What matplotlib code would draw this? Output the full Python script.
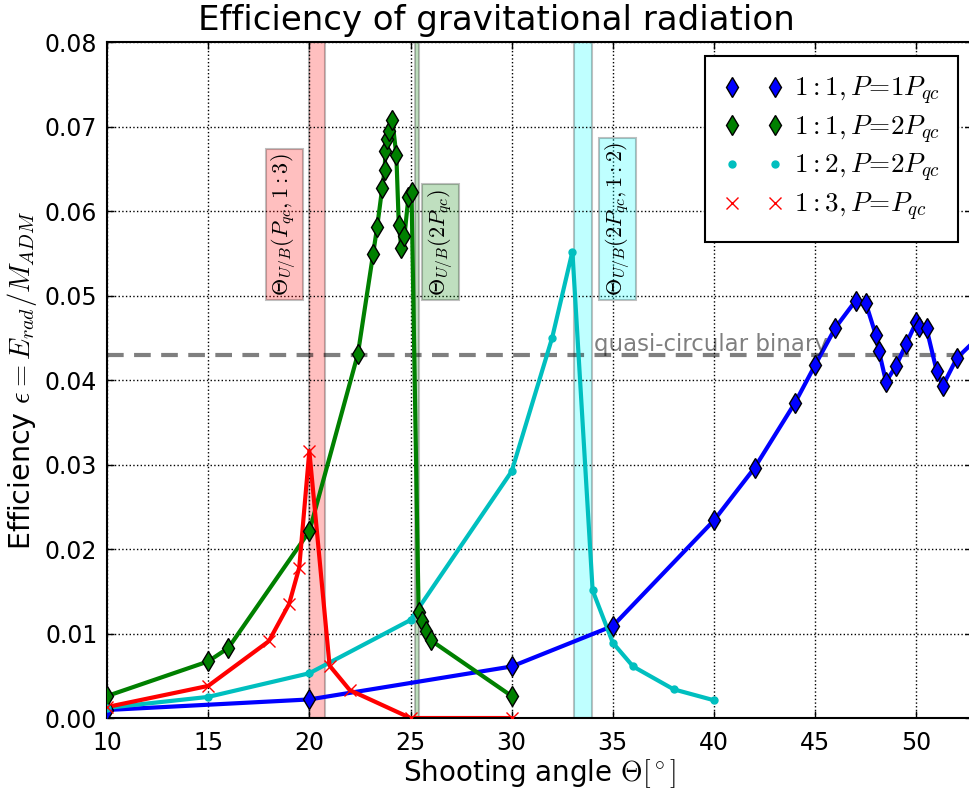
import matplotlib
matplotlib.use('Agg')
import matplotlib.pyplot as plt

plt.rcParams['mathtext.fontset'] = 'cm'
plt.rcParams['font.family'] = 'DejaVu Sans'

# 1:1, P = 1 Pqc
ang_11a = [10, 20, 30, 35, 40, 42, 44, 45, 46, 47, 47.5, 48, 48.15, 48.5, 49, 49.5,
           50, 50.15, 50.5, 51, 51.3, 52, 53]
eff_11a = [0.00095, 0.0022, 0.0061, 0.0109, 0.0234, 0.0296, 0.0373, 0.0418, 0.0462,
           0.0494, 0.0491, 0.0453, 0.0434, 0.0398, 0.0417, 0.0443, 0.0469, 0.0463,
           0.0461, 0.0411, 0.0393, 0.0426, 0.0449]

# 1:1, P = 2 Pqc
ang_11b = [10, 15, 16, 20, 22.4, 23.15, 23.35, 23.6, 23.72, 23.76, 23.85, 23.95, 24.1,
           24.3, 24.42, 24.55, 24.7, 24.9, 25.05, 25.4, 25.55, 25.75, 26.0, 30]
eff_11b = [0.0026, 0.0067, 0.0083, 0.0221, 0.0431, 0.0549, 0.0581, 0.0627, 0.0648,
           0.0671, 0.0685, 0.0695, 0.0708, 0.0666, 0.0584, 0.0556, 0.0571, 0.0617,
           0.0623, 0.0125, 0.0115, 0.0103, 0.0092, 0.0026]

# 1:2, P = 2 Pqc
ang_12 = [10, 15, 20, 25, 30, 32, 33, 34, 35, 36, 38, 40]
eff_12 = [0.0012, 0.0025, 0.0053, 0.0116, 0.0292, 0.045, 0.0552, 0.0151, 0.0089,
          0.0061, 0.0034, 0.0021]

# 1:3, P = Pqc
ang_13 = [10, 15, 18, 19, 19.5, 20, 21, 22, 25, 30]
eff_13 = [0.0013, 0.0038, 0.0091, 0.0135, 0.0178, 0.0316, 0.0062, 0.0033, 0.0, 0.0]

# threshold bands and labels
bands = [(20.0, 20.75), (25.2, 25.42), (33.1, 33.95)]
band_colors = ['red', 'green', 'cyan']
band_labels = [r'$\Theta_{U/B}(P_{qc},1:3)$', r'$\Theta_{U/B}(2P_{qc})$',
               r'$\Theta_{U/B}(2P_{qc},1:2)$']
label_x = [18.75, 26.5, 35.25]

qc_eff = 0.043

fig = plt.figure(figsize=(9.7, 7.92), dpi=100)
ax = fig.add_axes([0.1103, 0.0934, 0.8918, 0.8535])

for (x0, x1), c in zip(bands, band_colors):
    ax.axvspan(x0, x1, facecolor=c, edgecolor='k', alpha=0.25, lw=1.5, zorder=1)

ax.axhline(qc_eff, color='k', alpha=0.5, lw=3, ls='--', dashes=(4, 2.5), zorder=1.5)
ax.text(34.06, qc_eff + 0.0004, 'quasi-circular binary', color='k', alpha=0.5,
        fontsize=16.5, va='baseline', ha='left')

for lx, lab, c in zip(label_x, band_labels, band_colors):
    ax.text(lx, 0.0500, lab, rotation=90, ha='center', va='bottom', fontsize=16,
            bbox=dict(facecolor=c, edgecolor='k', alpha=0.25, lw=1.5, pad=3))

lw = 3
ax.plot(ang_11a, eff_11a, '-', color='b', lw=lw, zorder=2)
ax.plot(ang_11a, eff_11a, 'd', color='b', mec='k', ms=10, ls='none', zorder=3,
        label=r'$1:1, P\!=\!1P_{qc}$')
ax.plot(ang_11b, eff_11b, '-', color='g', lw=lw, zorder=2)
ax.plot(ang_11b, eff_11b, 'd', color='g', mec='k', ms=10, ls='none', zorder=3,
        label=r'$1:1, P\!=\!2P_{qc}$')
ax.plot(ang_12, eff_12, '-', color='c', lw=lw, zorder=2)
ax.plot(ang_12, eff_12, '.', color='c', ms=10, ls='none', zorder=3,
        label=r'$1:2, P\!=\!2P_{qc}$')
ax.plot(ang_13, eff_13, '-', color='r', lw=lw, zorder=2)
ax.plot(ang_13, eff_13, 'x', color='r', ms=9, mew=1, ls='none', zorder=3,
        label=r'$1:3, P\!=\!P_{qc}$')

ax.set_xlim(10, 52.75)
ax.set_ylim(0, 0.08)
ax.set_xticks(range(10, 51, 5))
ax.set_yticks([0.00, 0.01, 0.02, 0.03, 0.04, 0.05, 0.06, 0.07, 0.08])
ax.yaxis.set_major_formatter(matplotlib.ticker.FormatStrFormatter('%.2f'))
ax.tick_params(direction='in', top=True, right=True, labelsize=17, length=5, width=1)
ax.tick_params(axis='x', pad=9)
ax.tick_params(axis='y', pad=7)
ax.grid(True, ls=':', color='k', lw=1)
for s in ax.spines.values():
    s.set_linewidth(1.5)

ax.set_xlabel(r'Shooting angle $\Theta[^\circ]$', fontsize=20, labelpad=2)
ax.set_ylabel(r'Efficiency $\epsilon = E_{rad}/M_{ADM}$', fontsize=20.5)
ax.set_title('Efficiency of gravitational radiation', fontsize=24.5, pad=9, x=0.45)

leg = ax.legend(loc='upper right', numpoints=2, fontsize=19.5, fancybox=False,
                framealpha=1, edgecolor='k', handletextpad=0.38, handlelength=2.2,
                labelspacing=0.25, borderpad=0.7)
leg.get_frame().set_linewidth(1.5)

fig.savefig('out.png', dpi=100)
